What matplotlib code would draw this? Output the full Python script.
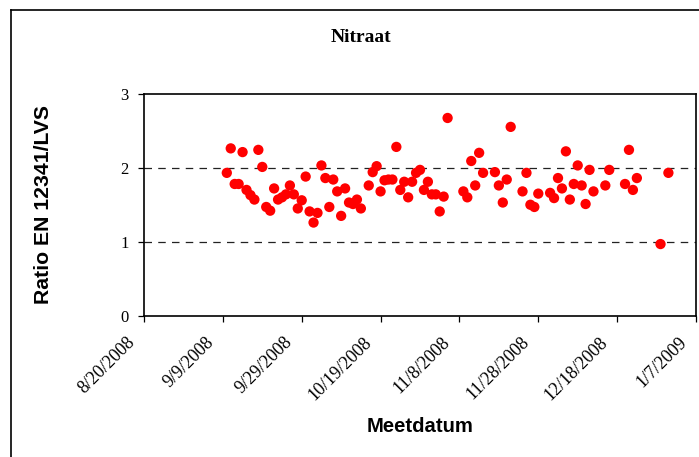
import matplotlib
matplotlib.use("Agg")
import matplotlib.pyplot as plt
import matplotlib.transforms as mtransforms
from matplotlib.lines import Line2D
import pandas as pd

# Nitraat ratio EN 12341 / LVS per measurement date
meetdatum = [
    "2008-09-10", "2008-09-11", "2008-09-12", "2008-09-13", "2008-09-14",
    "2008-09-15", "2008-09-16", "2008-09-17", "2008-09-18", "2008-09-19",
    "2008-09-20", "2008-09-21", "2008-09-22", "2008-09-23", "2008-09-24",
    "2008-09-25", "2008-09-26", "2008-09-27", "2008-09-28", "2008-09-29",
    "2008-09-30", "2008-10-01", "2008-10-02", "2008-10-03", "2008-10-04",
    "2008-10-05", "2008-10-06", "2008-10-07", "2008-10-08", "2008-10-09",
    "2008-10-10", "2008-10-11", "2008-10-12", "2008-10-13", "2008-10-14",
    "2008-10-16", "2008-10-17", "2008-10-18", "2008-10-19", "2008-10-20",
    "2008-10-21", "2008-10-22", "2008-10-23", "2008-10-24", "2008-10-25",
    "2008-10-26", "2008-10-27", "2008-10-28", "2008-10-29", "2008-10-30",
    "2008-10-31", "2008-11-01", "2008-11-02", "2008-11-03", "2008-11-04",
    "2008-11-05", "2008-11-09", "2008-11-10", "2008-11-11", "2008-11-12",
    "2008-11-13", "2008-11-14", "2008-11-17", "2008-11-18", "2008-11-19",
    "2008-11-20", "2008-11-21", "2008-11-24", "2008-11-25", "2008-11-26",
    "2008-11-27", "2008-11-28", "2008-12-01", "2008-12-02", "2008-12-03",
    "2008-12-04", "2008-12-05", "2008-12-06", "2008-12-07", "2008-12-08",
    "2008-12-09", "2008-12-10", "2008-12-11", "2008-12-12", "2008-12-15",
    "2008-12-16", "2008-12-20", "2008-12-21", "2008-12-22", "2008-12-23",
    "2008-12-29", "2008-12-31",
]
ratio = [
    1.93, 2.26, 1.78, 1.78, 2.21,
    1.70, 1.63, 1.57, 2.24, 2.01,
    1.47, 1.42, 1.72, 1.57, 1.60,
    1.64, 1.76, 1.64, 1.45, 1.56,
    1.88, 1.41, 1.26, 1.39, 2.03,
    1.86, 1.47, 1.84, 1.68, 1.35,
    1.72, 1.53, 1.51, 1.57, 1.45,
    1.76, 1.94, 2.02, 1.68, 1.83,
    1.84, 1.84, 2.28, 1.70, 1.81,
    1.60, 1.81, 1.93, 1.97, 1.70,
    1.81, 1.64, 1.64, 1.41, 1.61,
    2.67, 1.68, 1.60, 2.09, 1.76,
    2.20, 1.93, 1.94, 1.76, 1.53,
    1.84, 2.55, 1.68, 1.93, 1.50,
    1.47, 1.65, 1.66, 1.59, 1.86,
    1.72, 2.22, 1.57, 1.78, 2.03,
    1.76, 1.51, 1.97, 1.68, 1.76,
    1.97, 1.78, 2.24, 1.70, 1.86,
    0.97, 1.93,
]
x_start = "2008-08-20"
x_end = "2009-01-07"
y_ticks = [0, 1, 2, 3]

serif = "Liberation Serif"
sans = "Liberation Sans"

W, H = 699, 457
fig = plt.figure(figsize=(W / 100, H / 100), dpi=100)
ax = fig.add_axes([144 / W, 1 - 316 / H, (696 - 144) / W, (316 - 93.5) / H])

dates = pd.to_datetime(meetdatum)
ax.scatter(dates, ratio, s=55, color="#FF0000", edgecolors="none", zorder=3)

# dashed reference lines
for level in y_ticks[1:-1]:
    ax.axhline(level, color="#222222", lw=0.9, ls=(0, (6, 5)), zorder=1)

t0, t1 = pd.Timestamp(x_start), pd.Timestamp(x_end)
ax.set_xlim(t0, t1)
ax.set_ylim(y_ticks[0], y_ticks[-1])

xt = pd.date_range(t0, t1, freq="20D")
ax.set_xticks(xt)
ax.set_yticks(y_ticks)
ax.tick_params(axis="both", direction="out", length=4, width=0.9, color="black")
ax.tick_params(axis="x", pad=13)
ax.tick_params(axis="y", pad=7)
ax.set_xticklabels([f"{d.month}/{d.day}/{d.year}" for d in xt],
                   rotation=45, ha="right", va="bottom", rotation_mode="anchor",
                   fontfamily=serif, fontsize=13)
ax.set_yticklabels([str(v) for v in y_ticks], fontfamily=serif, fontsize=12)

# nudge the slanted date labels down-left along their direction
shift = mtransforms.ScaledTranslation(-6 / 100, -6 / 100, fig.dpi_scale_trans)
for lbl in ax.get_xticklabels():
    lbl.set_transform(lbl.get_transform() + shift)

for side in ["left", "bottom", "top", "right"]:
    ax.spines[side].set_color("black")
    ax.spines[side].set_linewidth(1.2)

ax.set_xlabel("Meetdatum", fontfamily=sans, fontweight="bold", fontsize=14.6)
ax.xaxis.set_label_coords(0.5, (316 - 427) / 222.5)
ax.xaxis.label.set_va("center")
ax.set_ylabel("Ratio EN 12341/LVS", fontfamily=sans, fontweight="bold", fontsize=15.3)
ax.yaxis.set_label_coords((43 - 144) / 552, 0.5)
ax.yaxis.label.set_va("center")

fig.text(361 / W, 1 - 38 / H, "Nitraat", ha="center", va="center",
         fontfamily=serif, fontweight="bold", fontsize=14)

# outer chart frame
fig.add_artist(Line2D([10.5 / W, 10.5 / W], [0, 1 - 9.5 / H],
                      transform=fig.transFigure, color="black", lw=1.2))
fig.add_artist(Line2D([10.5 / W, 1], [1 - 9.5 / H, 1 - 9.5 / H],
                      transform=fig.transFigure, color="black", lw=1.2))

fig.savefig("out.png", dpi=100)
